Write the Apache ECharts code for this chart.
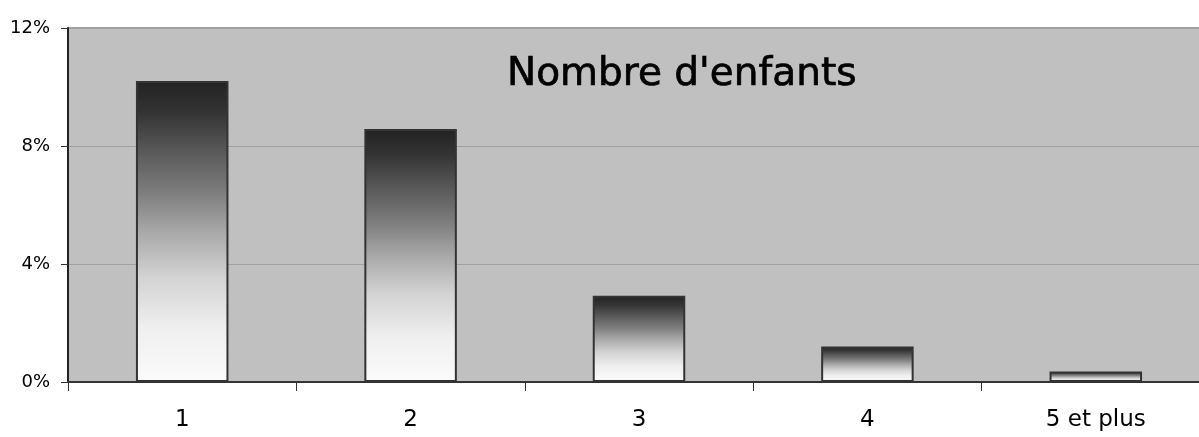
<!DOCTYPE html>
<html>
<head>
<meta charset="utf-8">
<script src="https://cdn.jsdelivr.net/npm/echarts@6/dist/echarts.min.js"></script>
<style>
  html, body { margin: 0; padding: 0; background: #fff; }
  #chart { width: 1199px; height: 437px; }
</style>
</head>
<body>
<div id="chart"></div>
<script>
// data
var categories = ['1', '2', '3', '4', '5 et plus'];
var shares = [10.2, 8.58, 2.92, 1.2, 0.36];
var yTicks = [0, 4, 8, 12];

var chart = echarts.init(document.getElementById('chart'));

// dark top fading to white at the base, like the original bars
var barGradient = new echarts.graphic.LinearGradient(0, 0, 0, 1, [
    { offset: 0, color: '#222222' },
    { offset: 0.1, color: '#333333' },
    { offset: 0.22, color: '#555555' },
    { offset: 0.38, color: '#808080' },
    { offset: 0.5, color: '#a8a8a8' },
    { offset: 0.65, color: '#d2d2d2' },
    { offset: 0.82, color: '#efefef' },
    { offset: 1, color: '#fbfbfb' }
]);

var option = {
    animation: false,
    title: {
        text: "Nombre d'enfants",
        left: 502,
        top: 50,
        textStyle: {
            fontFamily: 'DejaVu Sans',
            fontSize: 39,
            fontWeight: 'normal',
            color: '#000',
            textBorderColor: '#000',
            textBorderWidth: 0.7
        }
    },
    grid: {
        // the plot runs past the right edge of the picture
        left: 68,
        right: -11,
        top: 28,
        bottom: 55,
        containLabel: false,
        outerBoundsMode: 'none',
        show: true,
        backgroundColor: '#c0c0c0',
        borderColor: '#808080',
        borderWidth: 1.5
    },
    xAxis: {
        type: 'category',
        data: categories,
        axisLine: { lineStyle: { color: '#333', width: 2 } },
        axisTick: { show: true, length: 9, lineStyle: { color: '#333' } },
        axisLabel: {
            margin: 27,
            fontFamily: 'DejaVu Sans',
            fontSize: 23,
            color: '#000'
        }
    },
    yAxis: {
        type: 'value',
        min: yTicks[0],
        max: yTicks[yTicks.length - 1],
        interval: 4,
        axisLine: { show: true, lineStyle: { color: '#222', width: 2 } },
        axisTick: { show: true, length: 7, lineStyle: { color: '#333' } },
        splitLine: { show: true, lineStyle: { color: '#a0a0a0', width: 1 } },
        axisLabel: {
            margin: 18,
            fontFamily: 'DejaVu Sans',
            fontSize: 18,
            color: '#000',
            formatter: '{value}%'
        }
    },
    series: [{
        type: 'bar',
        data: shares,
        barWidth: '40.5%',
        itemStyle: {
            color: barGradient,
            borderColor: '#333333',
            borderWidth: 2
        }
    }]
};

chart.setOption(option);
</script>
</body>
</html>
